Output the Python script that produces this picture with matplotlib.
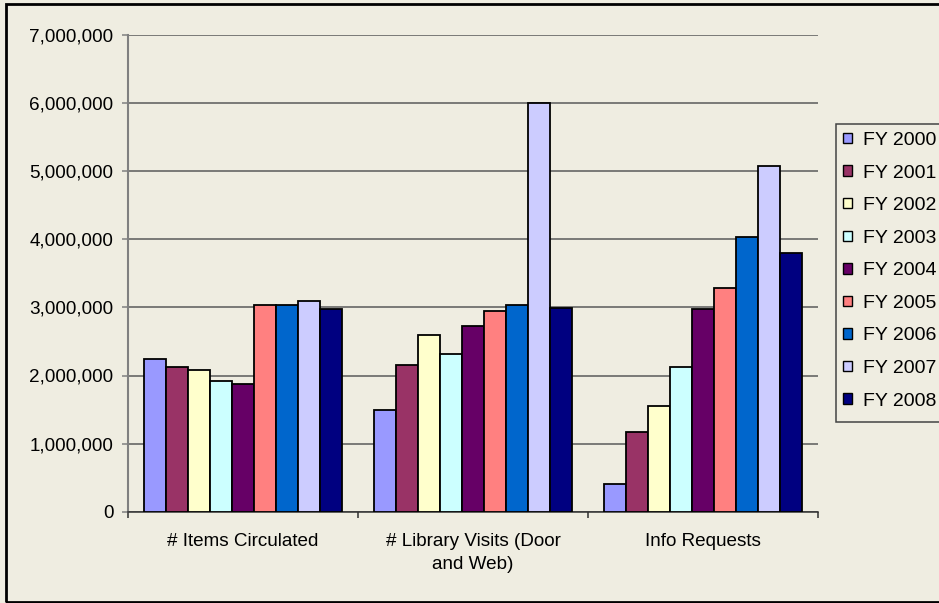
import matplotlib
matplotlib.use("Agg")
import matplotlib.pyplot as plt
import numpy as np
from matplotlib.patches import Rectangle
from matplotlib.ticker import FuncFormatter

plt.rcParams['font.family'] = ['Liberation Sans', 'DejaVu Sans']

categories = ['# Items Circulated', '# Library Visits (Door\nand Web)', 'Info Requests']
years = ['FY 2000', 'FY 2001', 'FY 2002', 'FY 2003', 'FY 2004',
         'FY 2005', 'FY 2006', 'FY 2007', 'FY 2008']
items_circulated = [2245000, 2130000, 2080000, 1920000, 1880000, 3030000, 3030000, 3100000, 2980000]
library_visits = [1500000, 2150000, 2590000, 2310000, 2730000, 2940000, 3030000, 6000000, 2990000]
info_requests = [410000, 1175000, 1550000, 2120000, 2980000, 3290000, 4030000, 5070000, 3800000]
colors = ['#9999FF', '#993366', '#FFFFCC', '#CCFFFF', '#660066',
          '#FF8080', '#0066CC', '#CCCCFF', '#000080']

bg = '#EFEDE1'
fs = 13.6

fig = plt.figure(figsize=(9.39, 6.03), dpi=100, facecolor=bg)
W, H = 939, 603
ax = fig.add_axes([128 / W, 1 - 511.7 / H, 690 / W, (511.7 - 35) / H])
ax.set_facecolor(bg)

# one value per category for each fiscal year
values = np.array([items_circulated, library_visits, info_requests]).T
x = np.arange(len(categories))
width = 1 / (len(years) + 1.5)
for i, (year, color) in enumerate(zip(years, colors)):
    ax.bar(x + (i - (len(years) - 1) / 2) * width, values[i], width,
           color=color, edgecolor='black', linewidth=1.3, label=year, zorder=3)

ax.set_xlim(-0.5, len(categories) - 0.5)
ax.set_ylim(0, 7000000)
ax.set_yticks(np.arange(0, 7000001, 1000000))
ax.yaxis.set_major_formatter(FuncFormatter(lambda v, p: f'{v:,.0f}'))
ax.grid(axis='y', color='#5a5a5a', linewidth=1.1, zorder=0)

for side in ['top', 'right']:
    ax.spines[side].set_visible(False)
ax.spines['left'].set_color('#808080')
ax.spines['left'].set_linewidth(1.5)
ax.spines['bottom'].set_color('#303030')
ax.spines['bottom'].set_linewidth(1.1)

ax.tick_params(axis='y', direction='out', length=4.5, width=1.1, color='#808080',
               pad=6, labelsize=fs)
ax.set_xticks(x)
ax.set_xticklabels(categories, fontsize=fs, linespacing=1.5)
ax.tick_params(axis='x', which='major', length=0, pad=15)
ax.set_xticks(np.arange(-0.5, len(categories), 1), minor=True)
ax.tick_params(axis='x', which='minor', direction='out', length=4.5, width=1.1, color='#303030')

# legend frame runs past the right edge of the figure
fig.patches.append(Rectangle((835.7 / W, 1 - 421.7 / H), 200 / W, (421.7 - 124.3) / H,
                             transform=fig.transFigure, facecolor=bg,
                             edgecolor='#444444', linewidth=1.1, zorder=1))
handles, labels = ax.get_legend_handles_labels()
leg = fig.legend(handles, labels, loc='upper left',
                 bbox_to_anchor=(835.7 / W, 1 - 124.3 / H), borderaxespad=0,
                 frameon=False, fontsize=14, handlelength=0.45, handleheight=0.45,
                 handletextpad=0.55, labelspacing=0.8, borderpad=0.4)
for h in leg.legend_handles:
    h.set_linewidth(1.0)

# outer chart border
fig.patches.append(Rectangle((6 / W, 1 - 601.5 / H), 1.1, (601.5 - 4) / H,
                             transform=fig.transFigure, facecolor='none',
                             edgecolor='black', linewidth=2, zorder=5))

fig.savefig('out.png', dpi=100, facecolor=bg)
